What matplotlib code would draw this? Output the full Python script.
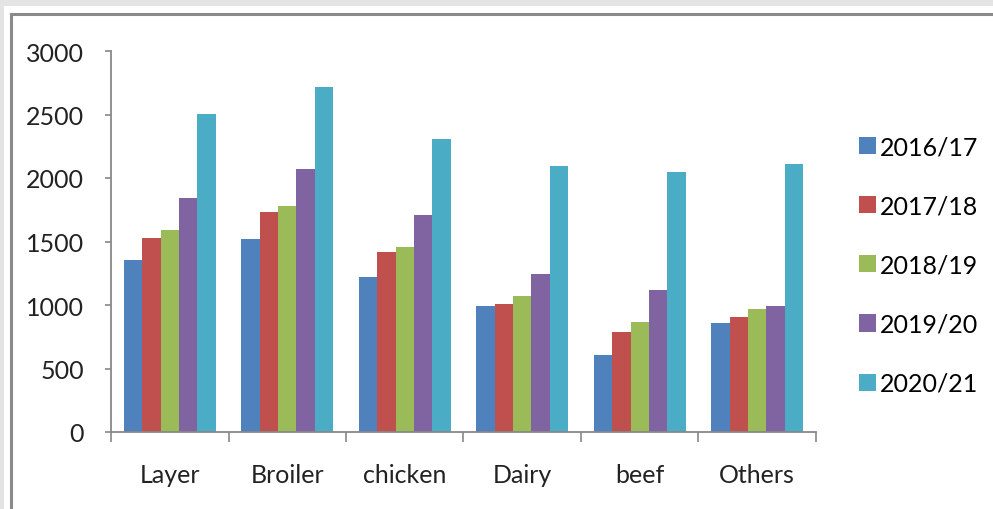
import matplotlib
matplotlib.use("Agg")
import matplotlib.pyplot as plt
from matplotlib.patches import Rectangle
from matplotlib.lines import Line2D
import numpy as np

# Livestock categories and yearly values
categories = ["Layer", "Broiler", "chicken", "Dairy", "beef", "Others"]
seasons = ["2016/17", "2017/18", "2018/19", "2019/20", "2020/21"]
v_2016_17 = [1355, 1520, 1220, 995, 605, 855]
v_2017_18 = [1530, 1735, 1420, 1005, 785, 905]
v_2018_19 = [1590, 1780, 1455, 1070, 870, 965]
v_2019_20 = [1845, 2070, 1710, 1245, 1120, 995]
v_2020_21 = [2505, 2720, 2310, 2095, 2045, 2110]
yticks = [0, 500, 1000, 1500, 2000, 2500, 3000]

series = [v_2016_17, v_2017_18, v_2018_19, v_2019_20, v_2020_21]
colors = ["#4F81BD", "#C0504D", "#9BBB59", "#8064A2", "#4BACC6"]

plt.rcParams["font.family"] = ["Lato", "DejaVu Sans"]
FS = 18
AXIS_GRAY = "#888888"

W, H = 993, 510
fig = plt.figure(figsize=(W / 100, H / 100), dpi=100, facecolor="white")

# page background bands and frame
fig.add_artist(Rectangle((0, 1 - 7 / H), 1, 7 / H, transform=fig.transFigure,
                         facecolor="#e4e4e4", edgecolor="none"))
fig.add_artist(Rectangle((0, 0), 4 / W, 1, transform=fig.transFigure,
                         facecolor="#e4e4e4", edgecolor="none"))
fig.add_artist(Line2D([10.5 / W, 1], [1 - 14.5 / H, 1 - 14.5 / H],
                      transform=fig.transFigure, color="#8a8a8a", lw=2.2))
fig.add_artist(Line2D([10.5 / W, 10.5 / W], [0, 1 - 14.5 / H],
                      transform=fig.transFigure, color="#8a8a8a", lw=2.2))

ax = fig.add_axes([111 / W, 77 / H, 705 / W, 381 / H])

x = np.arange(len(categories))
bw = 0.156
for i, (vals, c, lab) in enumerate(zip(series, colors, seasons)):
    ax.bar(x + (i - 2) * bw, vals, width=bw, color=c, label=lab,
           edgecolor="none")

ax.set_xlim(-0.5, len(categories) - 0.5)
ax.set_ylim(0, 3000)
ax.set_yticks(yticks)
ax.set_yticklabels([str(t) for t in yticks], fontsize=FS, color="#222222")

ax.set_xticks(x)
ax.set_xticklabels(categories, fontsize=FS, color="#222222")
ax.set_xticks(np.arange(-0.5, len(categories)), minor=True)
ax.tick_params(axis="x", which="major", length=0, pad=22)
ax.tick_params(axis="x", which="minor", length=7, width=1.2, color=AXIS_GRAY)
ax.tick_params(axis="y", length=4.5, width=1.2, color=AXIS_GRAY, pad=15)

for s in ["top", "right"]:
    ax.spines[s].set_visible(False)
for s in ["left", "bottom"]:
    ax.spines[s].set_color(AXIS_GRAY)
    ax.spines[s].set_linewidth(1.3)

ax.legend(loc="center left", bbox_to_anchor=(859 / W, (H - 266) / H),
          bbox_transform=fig.transFigure, frameon=False, fontsize=FS,
          handlelength=0.68, handleheight=0.68, handletextpad=0.15,
          labelspacing=1.45, borderpad=0, borderaxespad=0)

fig.savefig("out.png", dpi=100, facecolor="white")
